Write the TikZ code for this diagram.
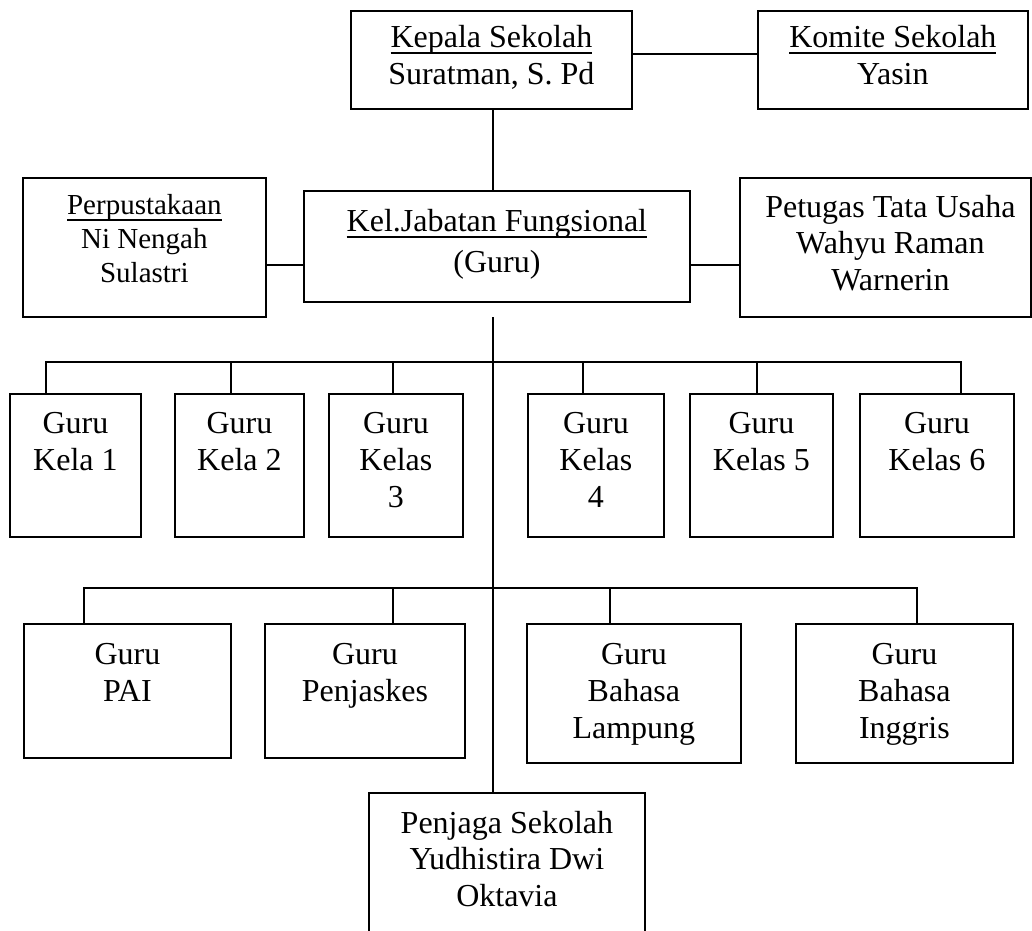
\documentclass[tikz,border=0pt]{standalone}
\usepackage{fontspec}
\setmainfont{Liberation Serif}
\newcommand{\ulx}[1]{\setbox0=\hbox{#1}\rlap{\rule[-6.5pt]{\wd0}{1.6pt}}\box0}
\begin{document}
\begin{tikzpicture}[x=1pt,y=-1pt,
  box/.style={draw, line width=1.8pt, inner sep=0pt, anchor=north west},
  lbl/.style={anchor=north, inner sep=0pt, align=center, font=\fontsize{32}{37}\selectfont},
  conn/.style={line width=1.6pt}]
\useasboundingbox (0,0) rectangle (1032,930);
\clip (0,0) rectangle (1032,930);
% boxes
\node[box, minimum width=281pt, minimum height=98pt]  (kepala)  at (350,10) {};
\node[box, minimum width=270pt, minimum height=98pt]  (komite)  at (757,10) {};
\node[box, minimum width=243pt, minimum height=139pt] (perpus)  at (22,177) {};
\node[box, minimum width=386pt, minimum height=111pt] (kel)     at (303,190) {};
\node[box, minimum width=291pt, minimum height=139pt] (petugas) at (739,177) {};
\node[box, minimum width=131pt, minimum height=143pt] (k1) at (9,393) {};
\node[box, minimum width=129pt, minimum height=143pt] (k2) at (174,393) {};
\node[box, minimum width=134pt, minimum height=143pt] (k3) at (328,393) {};
\node[box, minimum width=136pt, minimum height=143pt] (k4) at (527,393) {};
\node[box, minimum width=143pt, minimum height=143pt] (k5) at (689,393) {};
\node[box, minimum width=154pt, minimum height=143pt] (k6) at (859,393) {};
\node[box, minimum width=207pt, minimum height=134pt] (pai)  at (23,623) {};
\node[box, minimum width=200pt, minimum height=134pt] (penj) at (264,623) {};
\node[box, minimum width=214pt, minimum height=139pt] (lamp) at (526,623) {};
\node[box, minimum width=217pt, minimum height=139pt] (ingg) at (795,623) {};
\node[box, minimum width=276pt, minimum height=160pt] (penjaga) at (368,792) {};
% texts
\node[lbl] (tkepala) at ([yshift=-13pt]kepala.north) {\rule{0pt}{24pt}\ulx{Kepala Sekolah}\\Suratman, S. Pd};
\node[lbl] (tkomite) at ([yshift=-13pt]komite.north) {\rule{0pt}{24pt}\ulx{Komite Sekolah}\\Yasin};
\node[lbl, font=\fontsize{29}{34}\selectfont] (tperpus) at ([yshift=-13pt]perpus.north) {\rule{0pt}{24pt}\ulx{Perpustakaan}\\Ni Nengah\\Sulastri};
\node[lbl, font=\fontsize{32}{41}\selectfont] (tkel) at ([yshift=-17pt]kel.north) {\rule{0pt}{24pt}\ulx{Kel.Jabatan Fungsional}\\(Guru)};
\node[lbl, font=\fontsize{32}{36.5}\selectfont] (tpetugas) at ([xshift=5pt,yshift=-16pt]petugas.north) {\rule{0pt}{24pt}Petugas Tata Usaha\\Wahyu Raman\\Warnerin};
\node[lbl] (tk1) at ([yshift=-16pt]k1.north) {\rule{0pt}{24pt}Guru\\Kela 1};
\node[lbl] (tk2) at ([yshift=-16pt]k2.north) {\rule{0pt}{24pt}Guru\\Kela 2};
\node[lbl] (tk3) at ([yshift=-16pt]k3.north) {\rule{0pt}{24pt}Guru\\Kelas\\3};
\node[lbl] (tk4) at ([yshift=-16pt]k4.north) {\rule{0pt}{24pt}Guru\\Kelas\\4};
\node[lbl] (tk5) at ([yshift=-16pt]k5.north) {\rule{0pt}{24pt}Guru\\Kelas 5};
\node[lbl] (tk6) at ([yshift=-16pt]k6.north) {\rule{0pt}{24pt}Guru\\Kelas 6};
\node[lbl] (tpai)  at ([yshift=-17pt]pai.north)  {\rule{0pt}{24pt}Guru\\PAI};
\node[lbl] (tpenj) at ([yshift=-17pt]penj.north) {\rule{0pt}{24pt}Guru\\Penjaskes};
\node[lbl] (tlamp) at ([yshift=-17pt]lamp.north) {\rule{0pt}{24pt}Guru\\Bahasa\\Lampung};
\node[lbl] (tingg) at ([yshift=-17pt]ingg.north) {\rule{0pt}{24pt}Guru\\Bahasa\\Inggris};
\node[lbl, font=\fontsize{32}{36.5}\selectfont] (tpenjaga) at ([yshift=-17pt]penjaga.north) {\rule{0pt}{24pt}Penjaga Sekolah\\Yudhistira Dwi\\Oktavia};
% helper coordinates
\coordinate (sp) at (493,0);
\coordinate (ytop) at (0,317);
\coordinate (side) at (0,265);
\coordinate (bus1) at (0,362);
\coordinate (bus2) at (0,588);
\coordinate (c1) at (46,0);
\coordinate (c2) at (231,0);
\coordinate (c3) at (393,0);
\coordinate (c4) at (583,0);
\coordinate (c5) at (757,0);
\coordinate (c6) at (961,0);
\coordinate (d1) at (84,0);
\coordinate (d2) at (393,0);
\coordinate (d3) at (610,0);
\coordinate (d4) at (917,0);
% connectors
\draw[conn] ([yshift=6pt]kepala.east) -- ([yshift=6pt]komite.west);
\draw[conn] (kepala.south -| sp) -- (kel.north -| sp);
\draw[conn] (perpus.east |- side) -- (kel.west |- side);
\draw[conn] (kel.east |- side) -- (petugas.west |- side);
\draw[conn] (sp |- ytop) -- (penjaga.north -| sp);
\draw[conn] (k1.north -| c1) -- (c1 |- bus1) -- (c6 |- bus1) -- (k6.north -| c6);
\draw[conn] (k2.north -| c2) -- (c2 |- bus1);
\draw[conn] (k3.north -| c3) -- (c3 |- bus1);
\draw[conn] (k4.north -| c4) -- (c4 |- bus1);
\draw[conn] (k5.north -| c5) -- (c5 |- bus1);
\draw[conn] (pai.north -| d1) -- (d1 |- bus2) -- (d4 |- bus2) -- (ingg.north -| d4);
\draw[conn] (penj.north -| d2) -- (d2 |- bus2);
\draw[conn] (lamp.north -| d3) -- (d3 |- bus2);
\end{tikzpicture}
\end{document}
